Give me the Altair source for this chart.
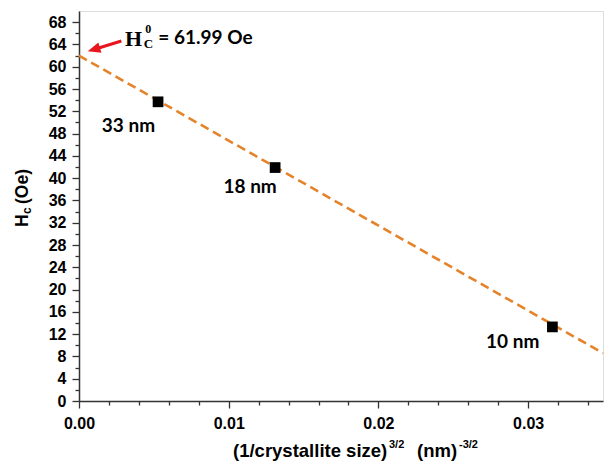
import altair as alt
import pandas as pd

# ---- data ----
sizes = ["33 nm", "18 nm", "10 nm"]
x_vals = [0.00528, 0.01310, 0.03162]          # (1/size)^(3/2)
hc_vals = [53.7, 41.9, 13.3]                  # Hc (Oe)
label_x = [0.0033, 0.01143, 0.02897]
label_y = [49.3, 38.5, 10.6]

fit_x = [0.0, 0.035]
fit_y = [61.99, 8.6]

arrow_x = [0.00283, 0.00099]
arrow_y = [64.6, 63.1]

x_ticks = [0.0, 0.002, 0.004, 0.006, 0.008, 0.010, 0.012, 0.014, 0.016,
           0.018, 0.020, 0.022, 0.024, 0.026, 0.028, 0.030, 0.032, 0.034]
y_ticks = [0, 2, 4, 6, 8, 10, 12, 14, 16, 18, 20, 22, 24, 26, 28, 30, 32, 34,
           36, 38, 40, 42, 44, 46, 48, 50, 52, 54, 56, 58, 60, 62, 64, 66, 68]

pts = pd.DataFrame({"x": x_vals, "y": hc_vals, "size": sizes})
labs = pd.DataFrame({"x": label_x, "y": label_y, "size": sizes})
fit = pd.DataFrame({"x": fit_x, "y": fit_y})
arrow = pd.DataFrame({"x": arrow_x, "y": arrow_y})
one = pd.DataFrame({"a": [0]})

AX_COLOR = "#333333"
LABEL_FONT = "Liberation Sans"

x_major = "abs(datum.value*100 - round(datum.value*100)) < 0.001"
y_major = "datum.value % 4 == 0"

xscale = alt.Scale(domain=[0, 0.035], nice=False, zero=False)
yscale = alt.Scale(domain=[0, 70], nice=False, zero=False)

xaxis = alt.Axis(
    values=x_ticks, title=None, grid=False,
    labelExpr=f"{x_major} ? format(datum.value, '.2f') : ''",
    tickSize={"condition": {"test": x_major, "value": 7}, "value": 4},
    labelFont=LABEL_FONT, labelFontWeight="bold", labelFontSize=16,
    labelColor="black", labelPadding=7, labelOverlap=False, labelFlush=False,
    domainColor=AX_COLOR, domainWidth=1.5, tickColor=AX_COLOR, tickWidth=1.3,
)
yaxis = alt.Axis(
    values=y_ticks, title=None, grid=False,
    labelExpr=f"{y_major} ? datum.label : ''",
    tickSize={"condition": {"test": y_major, "value": 7}, "value": 4},
    labelFont=LABEL_FONT, labelFontWeight="bold", labelFontSize=16,
    labelColor="black", labelPadding=6, labelOverlap=False, labelFlush=False,
    domainColor=AX_COLOR, domainWidth=1.5, tickColor=AX_COLOR, tickWidth=1.3,
)


def X(field=None, datum=None):
    if datum is not None:
        return alt.X(datum=datum, type="quantitative", scale=xscale, axis=xaxis)
    return alt.X(field, type="quantitative", scale=xscale, axis=xaxis)


def Y(field=None, datum=None):
    if datum is not None:
        return alt.Y(datum=datum, type="quantitative", scale=yscale, axis=yaxis)
    return alt.Y(field, type="quantitative", scale=yscale, axis=yaxis)


fit_line = alt.Chart(fit).mark_line(
    color="#E5832A", strokeWidth=2.6, strokeDash=[9, 5]
).encode(x=X("x"), y=Y("y"))

squares = alt.Chart(pts).mark_square(
    size=115, color="black", opacity=1, filled=True
).encode(x=X("x"), y=Y("y"))

size_labels = alt.Chart(labs).mark_text(
    font="Lato", fontWeight="bold", fontSize=19, color="black",
    align="center", baseline="middle"
).encode(x=X("x"), y=Y("y"), text="size:N")

arrow_line = alt.Chart(arrow).mark_line(color="#E8161E", strokeWidth=3.2).encode(
    x=X("x"), y=Y("y")
)
arrow_head = alt.Chart(arrow.iloc[[1]]).mark_point(
    shape="M-1,0L1,-0.85L1,0.85Z", filled=True, color="#E8161E", opacity=1,
    size=160, angle=343.6, strokeWidth=0
).encode(x=X("x"), y=Y("y"))

ann_H = alt.Chart(one).mark_text(
    text="H", font="Liberation Serif", fontWeight="bold", fontSize=22,
    color="black", align="center", baseline="alphabetic"
).encode(x=X(datum=0.00365), y=Y(datum=63.8))
ann_sup = alt.Chart(one).mark_text(
    text="0", font="Liberation Serif", fontWeight="bold", fontSize=12,
    color="black", align="center", baseline="alphabetic"
).encode(x=X(datum=0.00463), y=Y(datum=66.0))
ann_sub = alt.Chart(one).mark_text(
    text="C", font="Liberation Serif", fontWeight="bold", fontSize=13,
    color="black", align="center", baseline="alphabetic"
).encode(x=X(datum=0.00463), y=Y(datum=63.3))
ann_val = alt.Chart(one).mark_text(
    text="= 61.99 Oe", font="Lato", fontWeight="bold", fontSize=19,
    color="black", align="left", baseline="alphabetic"
).encode(x=X(datum=0.0053), y=Y(datum=64.0))


# axis titles built from pieces (sub/superscripts)
def piece(txt, x, y, size, angle=0, weight="bold"):
    kw = dict(text=txt, font=LABEL_FONT, fontWeight=weight, fontSize=size,
              color="black", align="left", baseline="alphabetic")
    if angle:
        kw["angle"] = angle
    return alt.Chart(one).mark_text(**kw).encode(x=alt.value(x), y=alt.value(y))


xt1 = piece("(1/crystallite size)", 154, 446, 18.5)
xt2 = piece("3/2", 310, 437, 11)
xt3 = piece("(nm)", 338, 446, 18.5)
xt4 = piece("-3/2", 380, 437, 11)

yt1 = piece("H", -51, 216, 17.5, angle=270)
yt2 = piece("c", -48, 203, 12, angle=270)
yt3 = piece("(Oe)", -51, 193, 17.5, angle=270)

chart = alt.layer(
    fit_line, squares, size_labels, arrow_line, arrow_head,
    ann_H, ann_sup, ann_sub, ann_val,
    xt1, xt2, xt3, xt4, yt1, yt2, yt3,
).properties(
    width=524, height=390,
    autosize="none",
    padding={"left": 79, "top": 11, "right": 3, "bottom": 64},
).configure_view(
    stroke=AX_COLOR, strokeWidth=1.5
).configure(background="white")

chart.save("out.html", embed_options={"renderer": "svg", "actions": False})
